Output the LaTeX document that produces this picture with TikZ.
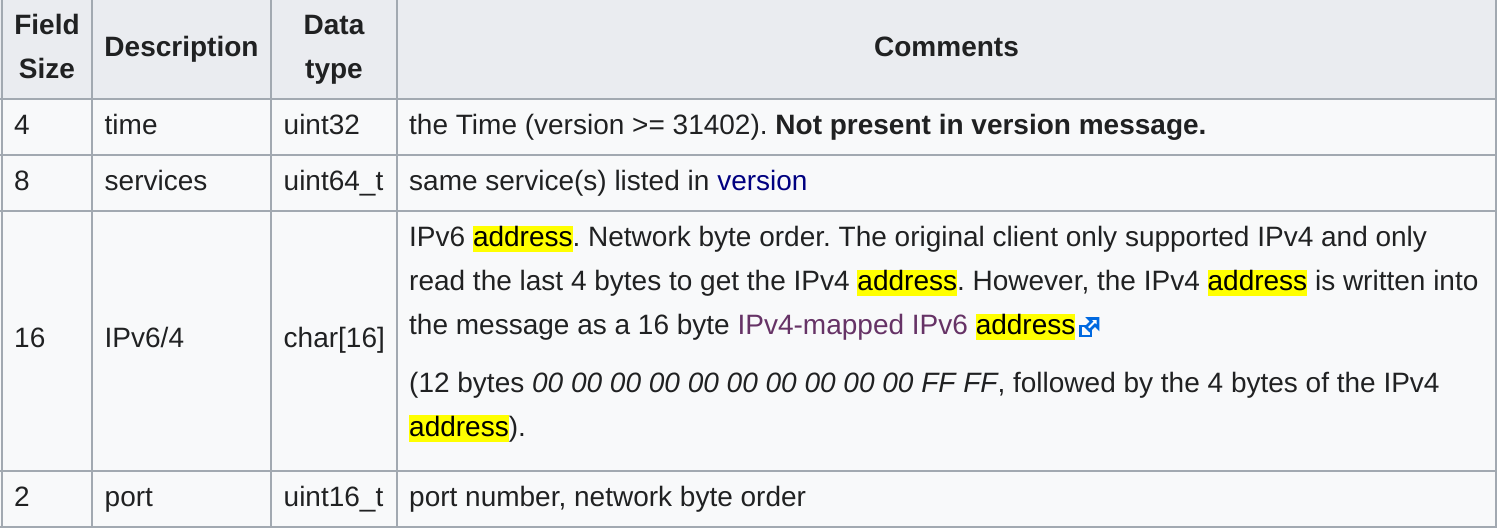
\documentclass[tikz,border=0pt]{standalone}
\usepackage{fontspec}
\setmainfont{Liberation Sans}
\usetikzlibrary{positioning}
\definecolor{inkc}{HTML}{202122}
\definecolor{headc}{HTML}{EAECF0}
\definecolor{bodyc}{HTML}{F8F9FA}
\definecolor{rulec}{HTML}{A2A9B1}
\definecolor{linkc}{HTML}{000080}
\definecolor{seenc}{HTML}{663366}
\definecolor{iconc}{HTML}{0069E0}
\definecolor{markc}{HTML}{FFFF00}
\newcommand{\addr}{\begingroup\setlength{\fboxsep}{0pt}\colorbox{markc}{\rule[-5.5pt]{0pt}{26.5pt}\textcolor{black}{address}}\endgroup}
\tikzstyle{rule} = [draw=rulec, line width=2.4pt]
\tikzstyle{cell} = [inner sep=0pt, anchor=base west, text=inkc, font=\fontsize{28}{34}\selectfont\frenchspacing]
\tikzstyle{head} = [inner sep=0pt, anchor=base, text=inkc, font=\fontsize{28}{34}\selectfont\bfseries]
\begin{document}
\begin{tikzpicture}[x=1pt, y=-1pt]
	\useasboundingbox (0,0) rectangle (1497,529);
	\fill [bodyc] (0,0) rectangle (1497,528);
	\fill [headc] (0,0) rectangle (1497,99);
	% table rules
	\foreach \y in {99,155,211,471,527}
		\draw [rule] (0,\y) -- (1497,\y);
	\foreach \x in {2,92,271,397,1496}
		\draw [rule] (\x,0) -- (\x,528);
	% header row
	\node (fieldHead) [head] at (47,35) {Field};
	\node (sizeHead) [head] at (47,79) {Size};
	\node (descHead) [head] at (181.5,57) {Description};
	\node (dataHead) [head] at (334,35) {Data};
	\node (typeHead) [head] at (334,79) {type};
	\node (commentsHead) [head] at (946.5,57) {Comments};
	% time
	\node (timeSize) [cell] at (14,135) {4};
	\node (timeName) [cell] at (104.5,135) {time};
	\node (timeType) [cell] at (283.5,135) {uint32};
	\node (timeNote) [cell] at (409,135) {the Time (version >= 31402). \textbf{Not present in version message.}};
	% services
	\node (servSize) [cell] at (14,191) {8};
	\node (servName) [cell] at (104.5,191) {services};
	\node (servType) [cell] at (283.5,191) {uint64\_t};
	\node (servNote) [cell] at (409,191) {same service(s) listed in \textcolor{linkc}{version}};
	% address
	\node (addrSize) [cell] at (14,348) {16};
	\node (addrName) [cell] at (104.5,348) {IPv6/4};
	\node (addrType) [cell] at (283.5,348) {char[16]};
	\node (addrLineA) [cell] at (409,247) {IPv6 \addr. Network byte order. The original client only supported IPv4 and only};
	\node (addrLineB) [cell] at (409,291) {read the last 4 bytes to get the IPv4 \addr. However, the IPv4 \addr{} is written into};
	\node (addrLineC) [cell] at (409,335) {the message as a 16 byte \textcolor{seenc}{IPv4-mapped IPv6} \addr};
	\node (addrLineD) [cell] at (409,392) {(12 bytes \textit{00 00 00 00 00 00 00 00 00 00 FF FF}, followed by the 4 bytes of the IPv4};
	\node (addrLineE) [cell] at (409,436) {\addr).};
	% port
	\node (portSize) [cell] at (14,506) {2};
	\node (portName) [cell] at (104.5,506) {port};
	\node (portType) [cell] at (283.5,506) {uint16\_t};
	\node (portNote) [cell] at (409,506) {port number, network byte order};
	% external link icon
	\draw [iconc, line width=2.7pt] (1091,329) -- (1091,336) -- (1080.4,336) -- (1080.4,326) -- (1086,326);
	\draw [iconc, fill=white, line width=2.7pt, miter limit=3] (1098,318.5) -- (1098,328) -- (1095,325) -- (1089.5,330.5) -- (1086,327) -- (1091.5,321.5) -- (1088.5,318.5) -- cycle;
\end{tikzpicture}
\end{document}
